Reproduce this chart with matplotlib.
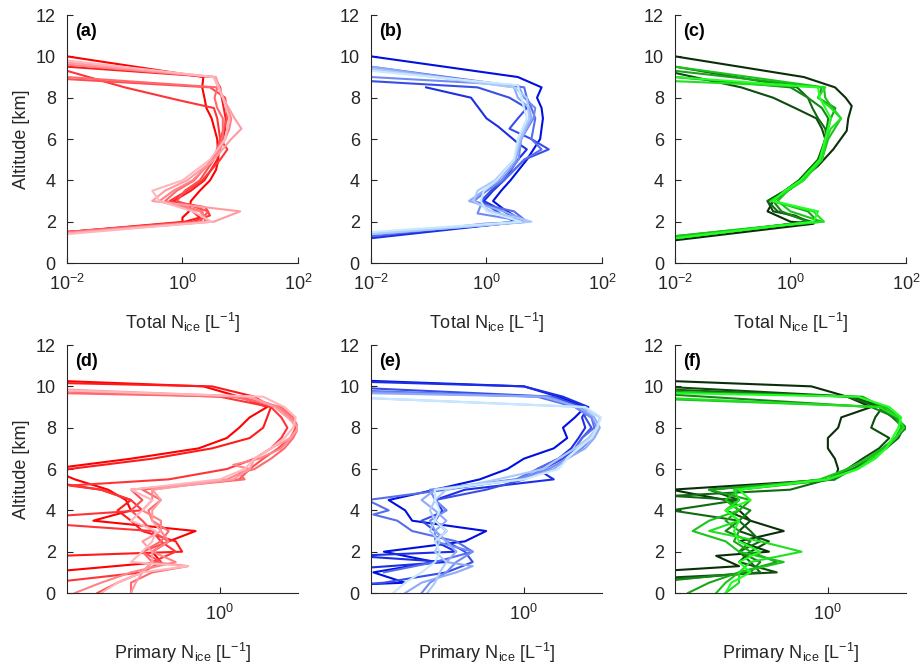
import numpy as np
import matplotlib
matplotlib.use("Agg")
from matplotlib import pyplot as plt
from matplotlib.colors import to_rgb

plt.rcParams['font.family'] = ['Liberation Sans', 'DejaVu Sans']
plt.rcParams['mathtext.default'] = 'regular'
plt.rcParams['axes.unicode_minus'] = False

# ---- data: total N_ice profiles (top row), 8 runs per panel ----
a_alt = [[1.5, 1.9, 2.0, 2.2, 2.5, 3.0, 3.5, 4.0, 4.5, 5.0, 6.0, 7.0, 7.5, 8.0, 8.5, 9.0, 10.0],
         [1.5, 2.0, 2.2, 2.5, 3.0, 3.5, 4.0, 5.0, 6.0, 6.5, 7.0, 8.0, 8.5, 9.0, 9.5],
         [1.5, 2.0, 2.3, 2.7, 3.0, 3.5, 4.0, 5.0, 5.5, 6.0, 7.0, 7.5, 7.9, 8.5, 9.3],
         [1.5, 2.0, 2.5, 3.0, 3.5, 4.0, 5.0, 6.0, 7.0, 8.0, 8.5, 8.9],
         [1.5, 2.0, 2.5, 3.0, 3.5, 4.0, 5.0, 6.0, 7.0, 7.5, 8.0, 8.5, 9.0],
         [1.45, 2.0, 2.5, 3.0, 3.5, 4.0, 5.0, 6.0, 6.5, 7.0, 8.0, 9.0, 9.6],
         [1.45, 2.0, 2.5, 3.0, 3.5, 4.0, 5.0, 6.0, 6.5, 7.0, 8.0, 9.0, 9.7],
         [1.4, 2.0, 2.5, 3.0, 3.5, 4.0, 5.0, 6.0, 7.0, 8.0, 9.0, 9.8]]
a_val = [[0.01, 0.8, 1.0, 1.0, 1.3, 1.4, 2.0, 3.0, 3.8, 4.2, 4.0, 3.2, 2.6, 2.4, 2.2, 2.3, 0.01],
         [0.01, 1.1, 2.0, 1.5, 0.7, 1.4, 2.4, 4.0, 5.0, 5.5, 5.6, 4.8, 4.5, 3.5, 0.01],
         [0.01, 1.5, 3.0, 2.5, 0.6, 1.2, 2.2, 4.5, 6.0, 4.5, 4.0, 3.5, 0.8, 0.1, 0.01],
         [0.01, 2.0, 2.8, 0.8, 1.1, 2.0, 3.5, 4.5, 6.0, 5.5, 3.0, 0.01],
         [0.01, 2.5, 2.2, 0.5, 0.8, 1.6, 3.2, 5.0, 5.0, 4.0, 3.6, 4.0, 0.01],
         [0.01, 2.8, 2.0, 0.4, 0.7, 1.5, 3.5, 5.5, 6.5, 7.0, 5.0, 3.5, 0.01],
         [0.01, 3.5, 10.0, 0.3, 0.5, 1.2, 3.5, 7.0, 10.5, 8.0, 5.0, 3.8, 0.01],
         [0.01, 3.2, 1.5, 0.4, 0.3, 1.0, 3.0, 5.5, 6.5, 5.0, 3.5, 0.01]]

b_alt = [[1.3, 2.0, 2.3, 2.6, 3.0, 3.5, 4.0, 5.0, 6.0, 7.0, 7.5, 8.0, 8.5, 9.0, 10.0],
         [1.2, 2.0, 2.5, 3.0, 3.5, 4.0, 5.0, 5.5, 5.8, 6.6, 7.0, 8.0, 8.5],
         [1.3, 2.0, 2.5, 3.0, 3.5, 4.0, 5.0, 5.5, 6.0, 6.5, 7.0, 7.5, 8.0, 8.5, 8.8],
         [1.3, 1.9, 2.0, 2.5, 2.8, 3.0, 3.5, 4.0, 5.0, 5.5, 6.0, 7.0, 7.5, 8.0, 8.5, 9.5],
         [1.4, 2.0, 2.4, 2.8, 3.0, 3.5, 4.0, 5.0, 6.0, 7.0, 7.5, 8.0, 8.6, 9.0],
         [1.4, 2.0, 2.5, 3.0, 3.5, 4.0, 5.0, 6.0, 7.0, 7.5, 8.0, 8.5, 9.5],
         [1.4, 2.0, 2.5, 3.0, 3.5, 4.0, 5.0, 6.0, 7.0, 8.0, 8.5, 9.4],
         [1.5, 2.0, 2.5, 3.0, 3.5, 4.0, 5.0, 6.0, 7.0, 8.0, 8.6, 9.3]]
b_val = [[0.01, 4.5, 3.0, 2.0, 1.3, 1.8, 2.6, 5.0, 8.5, 9.5, 9.0, 7.5, 9.0, 3.5, 0.01],
         [0.01, 4.0, 2.0, 0.9, 1.3, 2.0, 3.5, 5.0, 3.5, 1.6, 1.0, 0.54, 0.09],
         [0.01, 3.0, 1.5, 0.8, 1.2, 2.0, 4.5, 12.0, 6.0, 2.5, 3.5, 5.0, 2.5, 0.7, 0.01],
         [0.01, 0.9, 5.0, 3.0, 1.0, 0.6, 1.0, 2.0, 4.5, 9.0, 6.0, 7.0, 6.0, 5.0, 4.5, 0.01],
         [0.01, 5.0, 0.7, 0.8, 0.6, 1.0, 1.8, 3.6, 4.0, 6.5, 7.0, 4.5, 3.5, 0.01],
         [0.01, 5.5, 2.0, 0.5, 0.9, 1.6, 3.2, 4.0, 6.0, 5.5, 3.5, 3.0, 0.01],
         [0.01, 6.0, 1.2, 0.6, 0.7, 1.4, 3.0, 3.8, 5.5, 5.0, 3.0, 0.01],
         [0.01, 4.0, 1.0, 0.8, 0.9, 1.5, 3.0, 3.5, 5.0, 4.0, 3.5, 0.01]]

c_alt = [[1.1, 1.9, 2.0, 2.5, 3.0, 3.5, 4.0, 4.7, 5.5, 6.4, 7.0, 7.6, 8.0, 8.5, 9.0, 10.0],
         [1.2, 2.0, 2.3, 2.5, 3.0, 3.5, 4.0, 5.0, 6.0, 6.5, 7.0, 7.5, 8.0, 8.5, 9.2],
         [1.2, 2.0, 2.5, 3.0, 3.5, 4.0, 5.0, 6.0, 6.5, 7.0, 7.5, 8.0, 8.5, 9.5],
         [1.2, 2.0, 2.5, 3.0, 3.5, 4.0, 5.0, 6.0, 7.0, 7.5, 8.0, 8.5, 9.0],
         [1.3, 2.0, 2.5, 3.0, 3.5, 4.0, 5.0, 6.0, 7.0, 7.5, 8.0, 8.5, 9.3],
         [1.3, 1.8, 2.0, 2.5, 3.0, 3.5, 4.0, 5.0, 6.0, 7.0, 7.6, 8.0, 8.5, 9.5],
         [1.2, 1.8, 2.0, 2.5, 3.0, 3.5, 4.0, 5.0, 6.0, 6.5, 7.0, 7.5, 8.0, 8.5, 8.8],
         [1.2, 1.8, 2.0, 2.5, 3.0, 3.5, 4.0, 5.0, 6.0, 7.0, 8.0, 8.5, 9.0]]
c_val = [[0.01, 2.5, 1.0, 0.4, 0.5, 0.9, 1.5, 3.0, 5.5, 9.4, 10.0, 11.5, 9.0, 5.9, 1.7, 0.01],
         [0.01, 2.0, 1.2, 0.5, 0.4, 0.8, 1.4, 3.0, 4.0, 3.5, 2.8, 1.2, 0.5, 0.14, 0.01],
         [0.01, 2.3, 0.6, 0.4, 0.8, 1.4, 3.0, 4.2, 4.0, 3.0, 2.4, 2.0, 1.3, 0.01],
         [0.01, 2.0, 0.7, 0.5, 0.8, 1.5, 3.2, 4.0, 4.5, 3.5, 2.0, 1.0, 0.01],
         [0.01, 3.0, 2.0, 0.5, 0.9, 1.6, 3.5, 4.0, 5.0, 6.0, 3.0, 3.5, 0.01],
         [0.01, 0.5, 3.5, 1.0, 0.6, 0.9, 1.6, 3.5, 4.5, 7.5, 5.0, 4.0, 3.8, 0.01],
         [0.01, 0.6, 3.8, 2.5, 0.45, 0.9, 1.7, 3.5, 4.2, 5.0, 7.5, 5.0, 3.0, 4.0, 0.01],
         [0.01, 0.6, 2.5, 3.0, 0.5, 0.8, 1.5, 3.2, 4.0, 5.0, 3.2, 3.0, 0.01]]

# ---- data: primary N_ice profiles (bottom row) ----
d_alt = [[0.8, 1.5, 2.0, 2.5, 3.0, 3.5, 4.0, 4.5, 5.0, 5.5, 6.0, 6.5, 7.0, 7.5, 8.0, 8.5, 9.0, 9.5, 10.0, 10.5],
         [1.7, 2.0, 2.5, 3.0, 3.5, 4.0, 4.5, 5.0, 5.5, 6.0, 6.5, 7.0, 7.5, 8.0, 8.5, 9.0, 9.5, 10.0, 10.3],
         [0.0, 0.5, 1.0, 1.5, 2.0, 2.5, 3.0, 3.3, 3.7, 4.0, 4.5, 5.0, 5.2, 5.5, 6.0, 6.5, 7.0, 7.5, 8.0, 8.5, 9.0, 9.5, 10.0],
         [0.0, 0.5, 1.0, 1.5, 2.0, 2.5, 3.0, 3.5, 4.0, 4.5, 5.0, 5.5, 6.0, 6.5, 7.0, 7.5, 8.0, 8.5, 9.0, 9.5, 10.0],
         [0.0, 0.5, 1.0, 1.3, 1.5, 2.0, 2.5, 3.0, 3.5, 4.0, 4.5, 5.0, 5.5, 5.8, 6.0, 6.5, 7.0, 7.5, 8.0, 8.5, 9.0, 9.5, 9.8],
         [0.0, 0.5, 1.0, 1.5, 2.0, 2.5, 3.0, 3.5, 4.0, 4.5, 5.0, 5.5, 6.0, 6.2, 6.5, 7.0, 7.5, 8.0, 8.5, 9.0, 9.5, 10.0],
         [0.0, 0.5, 1.0, 1.5, 2.0, 2.5, 3.0, 3.5, 4.0, 4.5, 5.0, 5.5, 6.0, 6.5, 7.0, 7.5, 8.0, 8.5, 9.0, 9.5, 10.1],
         [0.0, 0.5, 1.0, 1.3, 1.5, 2.0, 2.5, 3.0, 3.5, 4.0, 4.5, 5.0, 5.5, 6.0, 6.5, 7.0, 7.5, 8.0, 8.5, 9.0, 9.5, 10.0]]
d_val = [[0.05, 0.45, 0.4, 0.5, 0.72, 0.18, 0.3, 0.28, 0.22, 0.14, 0.1, 0.3, 0.75, 1.1, 1.3, 1.5, 1.9, 1.3, 0.8, 0.02],
         [0.05, 0.6, 0.55, 0.35, 0.3, 0.25, 0.3, 0.2, 0.08, 0.13, 0.4, 0.9, 1.5, 1.8, 1.9, 2.0, 1.6, 0.9, 0.02],
         [0.05, 0.1, 0.35, 0.4, 0.55, 0.45, 0.4, 0.12, 0.1, 0.35, 0.3, 0.2, 0.13, 0.5, 1.1, 1.6, 2.0, 2.3, 2.5, 2.3, 2.0, 1.0, 0.02],
         [0.19, 0.25, 0.35, 0.45, 0.35, 0.5, 0.4, 0.35, 0.3, 0.35, 0.3, 1.3, 1.5, 1.8, 2.2, 2.6, 2.8, 2.6, 2.2, 1.3, 0.02],
         [0.3, 0.3, 0.4, 0.65, 0.4, 0.35, 0.45, 0.5, 0.4, 0.38, 0.45, 0.35, 1.4, 1.3, 1.6, 2.0, 2.4, 2.7, 2.9, 2.7, 2.3, 1.2, 0.02],
         [0.14, 0.2, 0.3, 0.55, 0.4, 0.5, 0.45, 0.45, 0.35, 0.4, 0.4, 1.1, 1.5, 1.2, 1.7, 2.3, 2.6, 2.9, 2.6, 2.2, 1.5, 0.02],
         [0.3, 0.32, 0.35, 0.4, 0.4, 0.35, 0.45, 0.4, 0.4, 0.45, 0.4, 1.2, 1.5, 1.6, 2.0, 2.6, 2.9, 2.5, 2.1, 1.5, 0.02],
         [0.2, 0.25, 0.35, 0.65, 0.3, 0.35, 0.4, 0.42, 0.3, 0.35, 0.4, 0.3, 1.0, 1.4, 1.6, 2.0, 2.4, 2.7, 2.8, 2.4, 1.8, 0.02]]

e_alt = [[0.3, 0.5, 1.0, 1.5, 2.0, 2.5, 3.0, 3.5, 4.0, 4.5, 5.0, 5.5, 6.0, 6.5, 7.0, 7.5, 8.0, 8.5, 9.0, 9.5, 10.0, 10.5],
         [1.0, 1.5, 1.8, 2.0, 2.5, 3.0, 3.5, 4.0, 4.5, 5.0, 5.5, 6.0, 6.5, 7.0, 7.5, 8.0, 8.5, 9.0, 9.5, 10.0, 10.4],
         [0.2, 0.5, 1.0, 1.5, 2.0, 2.5, 3.0, 3.5, 4.0, 4.5, 5.0, 5.5, 6.0, 6.5, 7.0, 7.5, 8.0, 8.5, 9.0, 9.5, 10.2],
         [1.0, 1.5, 2.0, 2.5, 3.0, 3.5, 3.8, 4.0, 4.5, 5.0, 5.5, 6.0, 6.5, 7.0, 7.5, 8.0, 8.5, 9.0, 9.5, 10.0],
         [0.0, 0.5, 1.0, 1.5, 2.0, 2.5, 3.0, 3.5, 4.0, 4.5, 5.0, 5.5, 6.0, 6.5, 7.0, 7.5, 8.0, 8.5, 9.0, 9.5, 9.9],
         [0.0, 0.5, 1.0, 1.3, 1.5, 2.0, 2.5, 3.0, 3.5, 4.0, 4.5, 5.0, 5.5, 6.0, 6.5, 7.0, 7.5, 8.0, 8.5, 9.0, 9.5, 9.8],
         [0.0, 0.5, 1.0, 1.5, 2.0, 2.5, 3.0, 3.5, 4.0, 4.5, 5.0, 5.5, 6.0, 6.5, 7.0, 7.5, 8.0, 8.5, 9.0, 9.7],
         [0.0, 0.5, 1.0, 1.5, 2.0, 2.5, 3.0, 3.5, 4.0, 4.5, 5.0, 5.5, 6.0, 6.5, 7.0, 7.5, 8.0, 8.5, 9.0, 9.7]]
e_val = [[0.05, 0.2, 0.13, 0.3, 0.15, 0.45, 0.6, 0.22, 0.2, 0.16, 0.3, 0.55, 0.8, 1.0, 1.5, 1.8, 1.7, 2.0, 2.3, 1.6, 1.0, 0.02],
         [0.05, 0.35, 0.1, 0.4, 0.3, 0.35, 0.3, 0.33, 0.3, 0.45, 1.5, 1.2, 1.6, 1.9, 2.1, 2.3, 2.2, 2.4, 1.7, 1.0, 0.02],
         [0.05, 0.15, 0.35, 0.5, 0.45, 0.35, 0.3, 0.25, 0.35, 0.3, 0.6, 1.0, 1.3, 1.7, 2.0, 2.2, 2.5, 2.3, 2.2, 1.5, 0.02],
         [0.15, 0.3, 0.5, 0.4, 0.22, 0.18, 0.13, 0.16, 0.12, 0.35, 0.9, 1.2, 1.6, 2.0, 2.2, 2.6, 2.5, 2.0, 1.2, 0.02],
         [0.25, 0.28, 0.35, 0.4, 0.5, 0.3, 0.3, 0.28, 0.35, 0.3, 0.28, 0.9, 1.4, 1.8, 2.2, 2.5, 2.7, 2.5, 2.0, 1.4, 0.02],
         [0.2, 0.25, 0.4, 0.5, 0.35, 0.4, 0.35, 0.3, 0.35, 0.3, 0.25, 0.3, 1.0, 1.5, 1.8, 2.3, 2.6, 2.8, 2.6, 2.1, 1.3, 0.02],
         [0.27, 0.3, 0.32, 0.35, 0.3, 0.32, 0.28, 0.3, 0.28, 0.3, 0.35, 0.7, 1.3, 1.6, 2.0, 2.4, 2.7, 2.8, 2.2, 0.02],
         [0.17, 0.2, 0.25, 0.3, 0.32, 0.3, 0.35, 0.3, 0.32, 0.3, 0.3, 1.0, 1.6, 1.8, 2.1, 2.5, 2.7, 2.85, 2.3, 0.02]]

f_alt = [[0.9, 1.3, 1.8, 2.0, 2.5, 3.0, 3.5, 4.0, 4.5, 5.0, 5.5, 6.0, 6.5, 7.0, 7.5, 8.0, 8.5, 9.0, 9.5, 10.0, 10.5],
         [0.6, 1.0, 1.5, 2.0, 2.5, 3.0, 3.5, 4.0, 4.5, 5.0, 5.5, 6.0, 6.5, 7.0, 7.5, 8.0, 8.5, 9.0, 9.5, 10.3],
         [0.4, 1.0, 1.5, 2.0, 2.5, 3.0, 3.5, 4.0, 4.5, 4.7, 5.0, 5.5, 6.0, 6.5, 7.0, 7.5, 8.0, 8.5, 9.0, 9.5, 10.1],
         [0.3, 1.0, 1.5, 2.0, 2.5, 3.0, 3.5, 4.0, 4.5, 5.0, 5.5, 6.0, 6.5, 7.0, 7.5, 8.0, 8.5, 9.0, 10.0],
         [0.0, 0.5, 1.0, 1.5, 2.0, 2.5, 3.0, 3.5, 4.0, 4.5, 5.0, 5.5, 6.0, 6.5, 7.0, 7.5, 8.0, 8.5, 9.0, 9.5, 9.9],
         [0.0, 0.5, 1.0, 1.5, 2.0, 2.5, 3.0, 3.5, 4.0, 4.5, 5.0, 5.5, 6.0, 6.5, 7.0, 7.5, 8.0, 8.5, 9.0, 9.6],
         [0.0, 0.5, 1.0, 1.5, 2.0, 2.5, 3.0, 3.5, 4.0, 4.5, 5.0, 5.5, 6.0, 6.5, 7.0, 7.5, 8.0, 8.5, 9.0, 9.7],
         [0.0, 0.5, 1.0, 1.5, 2.0, 2.5, 3.0, 3.5, 4.0, 4.5, 5.0, 5.5, 6.0, 6.5, 7.0, 7.5, 8.0, 8.5, 9.0, 9.5, 9.8]]
f_val = [[0.05, 0.3, 0.22, 0.45, 0.3, 0.55, 0.35, 0.3, 0.25, 0.12, 1.1, 1.15, 1.1, 1.0, 1.0, 1.15, 1.2, 1.8, 1.3, 0.8, 0.02],
         [0.05, 0.5, 0.3, 0.35, 0.45, 0.3, 0.35, 0.25, 0.3, 0.2, 1.0, 1.3, 1.6, 2.0, 2.3, 1.8, 1.9, 2.1, 1.4, 0.02],
         [0.05, 0.4, 0.35, 0.3, 0.4, 0.35, 0.3, 0.12, 0.3, 0.12, 0.6, 1.0, 1.4, 1.8, 2.2, 2.6, 2.8, 2.4, 2.0, 1.3, 0.02],
         [0.05, 0.35, 0.4, 0.3, 0.35, 0.25, 0.3, 0.35, 0.25, 0.3, 1.1, 1.4, 1.8, 2.1, 2.5, 2.9, 2.5, 1.8, 0.02],
         [0.15, 0.2, 0.3, 0.5, 0.35, 0.28, 0.3, 0.25, 0.3, 0.35, 0.2, 1.0, 1.3, 1.7, 2.1, 2.5, 2.7, 2.5, 2.1, 1.6, 0.02],
         [0.22, 0.25, 0.3, 0.55, 0.3, 0.25, 0.16, 0.2, 0.3, 0.25, 0.3, 0.9, 1.3, 1.7, 2.1, 2.5, 2.7, 2.6, 2.2, 0.02],
         [0.25, 0.3, 0.3, 0.35, 0.7, 0.4, 0.2, 0.3, 0.25, 0.3, 0.28, 1.0, 1.5, 1.8, 2.2, 2.5, 2.8, 2.6, 2.0, 0.02],
         [0.25, 0.27, 0.35, 0.3, 0.4, 0.3, 0.28, 0.3, 0.25, 0.35, 0.3, 1.0, 1.5, 1.9, 2.2, 2.4, 2.6, 2.7, 2.3, 1.5, 0.02]]

panel_labels = ['(a)', '(b)', '(c)', '(d)', '(e)', '(f)']
top_xlabel = 'Total N$_{ice}$ [L$^{-1}$]'
bot_xlabel = 'Primary N$_{ice}$ [L$^{-1}$]'

# colour ramps (dark -> light) per column
ramps = [('#ff0000', '#ffb6bd'), ('#0010e0', '#c8e8ff'), ('#0a2e0a', '#22ff22')]

fig = plt.figure(figsize=(9.21, 6.71), dpi=100)
lefts = [0.0727, 0.4028, 0.7329]
bottoms = [0.608, 0.1162]
W, H = 0.2508, 0.3696
txt = '#262626'

panels = [(a_alt, a_val), (b_alt, b_val), (c_alt, c_val),
          (d_alt, d_val), (e_alt, e_val), (f_alt, f_val)]

for k, (alts, vals) in enumerate(panels):
    row, col = divmod(k, 3)
    ax = fig.add_axes([lefts[col], bottoms[row], W, H])
    c0 = np.array(to_rgb(ramps[col][0]))
    c1 = np.array(to_rgb(ramps[col][1]))
    n = len(alts)
    for i in range(n):
        t = i / (n - 1)
        ax.plot(vals[i], alts[i], color=c0 + (c1 - c0) * t, lw=1.5)
    ax.set_xscale('log')
    if row == 0:
        ax.set_xlim(1e-2, 1e2)
        ax.set_xticks([1e-2, 1, 1e2])
        ax.set_xlabel(top_xlabel, fontsize=13, color=txt, labelpad=12)
    else:
        ax.set_xlim(10 ** -0.9, 10 ** 0.46)
        ax.set_xticks([1])
        ax.set_xlabel(bot_xlabel, fontsize=13, color=txt, labelpad=12)
    ax.minorticks_off()
    ax.set_ylim(0, 12)
    ax.set_yticks(range(0, 13, 2))
    if col == 0:
        ax.set_ylabel('Altitude [km]', fontsize=13, color=txt)
    for s in ['top', 'right']:
        ax.spines[s].set_visible(False)
    for s in ['left', 'bottom']:
        ax.spines[s].set_color(txt)
        ax.spines[s].set_linewidth(0.8)
    ax.tick_params(direction='in', length=4, labelsize=13, colors=txt, pad=8)
    ax.text(0.035, 0.935, panel_labels[k], transform=ax.transAxes,
            fontsize=13, fontweight='bold', color='black', ha='left', va='center')

fig.savefig('out.png', dpi=100)
